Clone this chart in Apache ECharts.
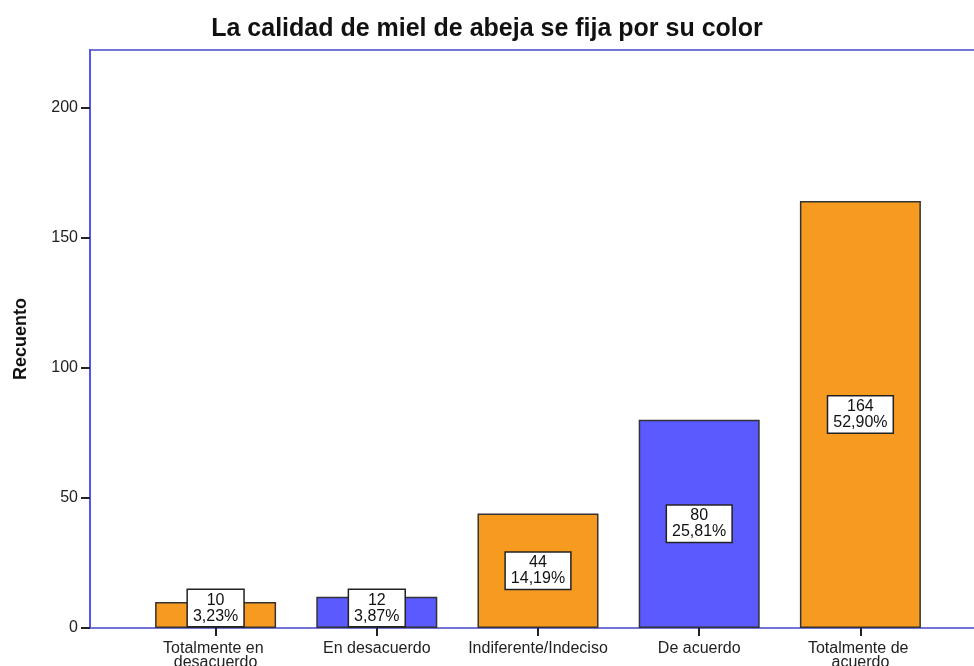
<!DOCTYPE html>
<html>
<head>
<meta charset="utf-8">
<script src="https://cdn.jsdelivr.net/npm/echarts@6/dist/echarts.min.js"></script>
<style>
  html, body { margin: 0; background: #fff; }
  #chart { width: 974px; height: 666px; }
</style>
</head>
<body>
<div id="chart"></div>
<script>
// data
const categories = ['Totalmente en desacuerdo', 'En desacuerdo', 'Indiferente/Indeciso', 'De acuerdo', 'Totalmente de acuerdo'];
const counts = [10, 12, 44, 80, 164];
const percents = ['3,23%', '3,87%', '14,19%', '25,81%', '52,90%'];
const yTicks = [0, 50, 100, 150, 200];

const ORANGE = '#f79a20';
const BLUE = '#5a5aff';
const barColors = [ORANGE, BLUE, ORANGE, BLUE, ORANGE];
const font = '"Liberation Sans", Arial, sans-serif';

const chart = echarts.init(document.getElementById('chart'));

const barData = counts.map((v, i) => ({
  value: v,
  itemStyle: { color: barColors[i] },
  // small bars: keep the box above the axis line
  label: v < 20 ? { position: 'insideBottom', distance: 2 } : undefined
}));

const option = {
  animation: false,
  title: {
    text: 'La calidad de miel de abeja se fija por su color',
    left: 'center',
    top: 12,
    textStyle: { fontFamily: font, fontSize: 25, fontWeight: 'bold', color: '#111' }
  },
  grid: [
    // outer frame (runs off the right edge like the original)
    { left: 90, top: 50, width: 896, bottom: 38, show: true, borderColor: '#7474d6', borderWidth: 2, outerBoundsMode: 'none' },
    // inner band area where the bars sit
    { left: 135, top: 50, width: 806, bottom: 38, outerBoundsMode: 'none' }
  ],
  xAxis: [
    { gridIndex: 0, type: 'value', min: 0, max: 1, show: false },
    {
      gridIndex: 1,
      type: 'category',
      data: categories,
      axisLine: { show: true, lineStyle: { color: '#7474d6', width: 2 } },
      axisTick: { show: true, alignWithLabel: true, length: 8, lineStyle: { color: '#222', width: 2 } },
      axisLabel: {
        fontFamily: font, fontSize: 16, lineHeight: 14, color: '#222', margin: 14,
        width: 158, overflow: 'break', interval: 0
      }
    }
  ],
  yAxis: [
    {
      gridIndex: 0,
      type: 'value',
      min: 0,
      max: 222,
      name: 'Recuento',
      nameLocation: 'middle',
      nameGap: 60,
      nameTextStyle: { fontFamily: font, fontSize: 18, fontWeight: 'bold', color: '#111' },
      axisLine: { show: true, lineStyle: { color: '#5555f5', width: 2 } },
      axisTick: { show: true, length: 9, customValues: yTicks, lineStyle: { color: '#222', width: 2 } },
      axisLabel: { customValues: yTicks, fontFamily: font, fontSize: 16, color: '#222', margin: 12 },
      splitLine: { show: false }
    },
    { gridIndex: 1, type: 'value', min: 0, max: 222, show: false }
  ],
  series: [
    {
      type: 'bar',
      xAxisIndex: 1,
      yAxisIndex: 1,
      barWidth: 121,
      data: barData,
      itemStyle: { borderColor: '#333', borderWidth: 1.5 },
      label: {
        show: true,
        position: 'inside',
        formatter: p => counts[p.dataIndex] + '\n' + percents[p.dataIndex],
        fontFamily: font,
        fontSize: 16,
        lineHeight: 16,
        color: '#111',
        backgroundColor: '#fff',
        borderColor: '#222',
        borderWidth: 1.5,
        padding: [3, 5, 1, 5]
      }
    }
  ]
};

chart.setOption(option);
</script>
</body>
</html>
